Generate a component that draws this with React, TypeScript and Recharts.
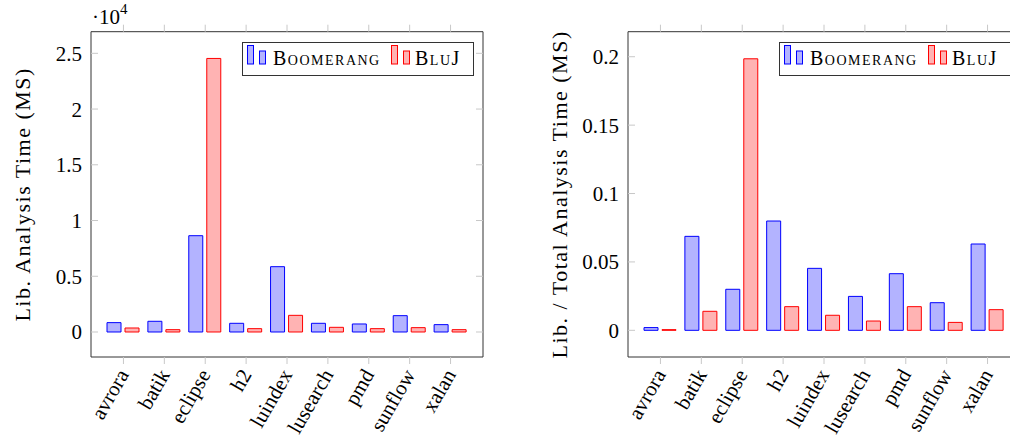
import { BarChart, Bar, XAxis, YAxis, Legend, Label } from 'recharts';

// benchmarks and measured values
const benchmarks = ['avrora', 'batik', 'eclipse', 'h2', 'luindex', 'lusearch', 'pmd', 'sunflow', 'xalan'];
const boomerangLibTime = [840, 960, 8640, 780, 5860, 780, 720, 1465, 660];
const blujLibTime = [360, 210, 24540, 300, 1495, 420, 300, 390, 210];
const boomerangLibRatio = [0.002, 0.0687, 0.03, 0.0799, 0.0453, 0.0248, 0.0414, 0.0202, 0.0631];
const blujLibRatio = [0.0005, 0.0139, 0.1985, 0.0173, 0.011, 0.0068, 0.0173, 0.0058, 0.0151];
const timeTicks = [0, 5000, 10000, 15000, 20000, 25000];
const ratioTicks = [0, 0.05, 0.1, 0.15, 0.2];

const FONT = "'Liberation Serif', 'Times New Roman', serif";
const BLUE = '#0000ff';
const BLUE_FILL = '#b3b3ff';
const RED = '#ff0000';
const RED_FILL = '#ffb3b3';
const FRAME = '#333';
const TICK = '#c8c8c8';

const SlantTick = ({ x, y, payload }: any) => (
  <text
    x={x}
    y={y}
    transform={`rotate(-60, ${x}, ${y})`}
    textAnchor="end"
    dominantBaseline="central"
    fontFamily={FONT}
    fontSize={21}
    fill="#000"
  >
    {payload.value}
  </text>
);

const NoTick = () => <g />;

const LegendBox = () => (
  <svg width={232} height={34} style={{ display: 'block' }}>
    <rect x={0.5} y={0.5} width={231} height={33} fill="#fff" stroke={FRAME} />
    <rect x={5.5} y={3.5} width={6} height={18.5} fill={BLUE_FILL} stroke={BLUE} />
    <rect x={17.5} y={9} width={6} height={13} fill={BLUE_FILL} stroke={BLUE} />
    <text x={31} y={22.5} fontFamily={FONT} fontSize={20} letterSpacing={1.5} style={{ fontVariant: 'small-caps' }}>
      Boomerang
    </text>
    <rect x={149.5} y={3.5} width={6} height={18.5} fill={RED_FILL} stroke={RED} />
    <rect x={161.5} y={9} width={6} height={13} fill={RED_FILL} stroke={RED} />
    <text x={173} y={22.5} fontFamily={FONT} fontSize={20} letterSpacing={1.5} style={{ fontVariant: 'small-caps' }}>
      BluJ
    </text>
  </svg>
);

const AxisTitle = ({ viewBox, text }: any) => {
  const cx = viewBox.x - 8;
  const cy = viewBox.y + viewBox.height / 2;
  return (
    <text
      x={cx}
      y={cy}
      transform={`rotate(-90, ${cx}, ${cy})`}
      textAnchor="middle"
      dominantBaseline="central"
      fontFamily={FONT}
      fontSize={22}
      letterSpacing={1.5}
      fill="#000"
    >
      {text}
    </text>
  );
};

interface PanelProps {
  blue: number[];
  red: number[];
  domain: [number, number];
  ticks: number[];
  fmt: (v: number) => string;
  title: string;
  width: number;
  marginLeft: number;
  marginRight: number;
  legendLeft: number;
}

function Panel({ blue, red, domain, ticks, fmt, title, width, marginLeft, marginRight, legendLeft }: PanelProps) {
  const data = benchmarks.map((name, i) => ({ name, boomerang: blue[i], bluj: red[i] }));
  return (
    <BarChart
      width={width}
      height={438}
      data={data}
      margin={{ top: 30.7, right: marginRight, bottom: 21, left: marginLeft }}
      barSize={14}
      barGap={4}
    >
      <XAxis
        xAxisId="bottom"
        dataKey="name"
        orientation="bottom"
        height={60}
        padding={{ left: 12, right: 12 }}
        axisLine={{ stroke: FRAME }}
        tickLine={{ stroke: TICK }}
        tickSize={7}
        tickMargin={7}
        interval={0}
        tick={<SlantTick />}
      />
      <XAxis
        xAxisId="top"
        dataKey="name"
        orientation="top"
        height={1}
        padding={{ left: 12, right: 12 }}
        axisLine={{ stroke: FRAME }}
        tickLine={{ stroke: TICK }}
        tickSize={7}
        interval={0}
        tick={<NoTick />}
      />
      <YAxis
        yAxisId="left"
        type="number"
        domain={domain}
        ticks={ticks}
        allowDataOverflow
        width={60}
        axisLine={{ stroke: FRAME }}
        tickLine={{ stroke: TICK }}
        tickSize={-7}
        tickMargin={16}
        tickFormatter={fmt}
        tick={{ fontFamily: FONT, fontSize: 21, fill: '#000' }}
      >
        <Label content={(p: any) => <AxisTitle {...p} text={title} />} />
      </YAxis>
      <YAxis
        yAxisId="right"
        orientation="right"
        type="number"
        domain={domain}
        ticks={ticks}
        allowDataOverflow
        width={1}
        axisLine={{ stroke: FRAME }}
        tickLine={{ stroke: TICK }}
        tickSize={-7}
        tick={<NoTick />}
      />
      <Legend
        content={<LegendBox />}
        layout="vertical"
        align="center"
        verticalAlign="middle"
        wrapperStyle={{ left: legendLeft, top: 42, width: 232, height: 34 }}
      />
      <Bar
        xAxisId="bottom"
        yAxisId="left"
        dataKey="boomerang"
        name="Boomerang"
        fill={BLUE_FILL}
        stroke={BLUE}
        strokeWidth={1}
        isAnimationActive={false}
      />
      <Bar
        xAxisId="bottom"
        yAxisId="left"
        dataKey="bluj"
        name="BluJ"
        fill={RED_FILL}
        stroke={RED}
        strokeWidth={1}
        isAnimationActive={false}
      />
    </BarChart>
  );
}

export default function App() {
  return (
    <div
      style={{
        position: 'absolute',
        left: 0,
        top: 0,
        width: 1010,
        height: 438,
        overflow: 'hidden',
        background: '#fff',
      }}
    >
      <div style={{ position: 'absolute', left: 0, top: 0 }}>
        <Panel
          blue={boomerangLibTime}
          red={blujLibTime}
          domain={[-2243, 26940]}
          ticks={timeTicks}
          fmt={(v) => String(v / 10000)}
          title="Lib. Analysis Time (MS)"
          width={500}
          marginLeft={31}
          marginRight={16}
          legendLeft={242}
        />
      </div>
      <svg width={180} height={32} style={{ position: 'absolute', left: 0, top: 0 }}>
        <text x={92} y={24} fontFamily={FONT} fontSize={21} fill="#000">
          ·10
          <tspan dy={-10} fontSize={15}>4</tspan>
        </text>
      </svg>
      <div style={{ position: 'absolute', left: 505, top: 0 }}>
        <Panel
          blue={boomerangLibRatio}
          red={blujLibRatio}
          domain={[-0.0195, 0.2183]}
          ticks={ratioTicks}
          fmt={(v) => String(v)}
          title="Lib. / Total Analysis Time (MS)"
          width={530}
          marginLeft={63}
          marginRight={14}
          legendLeft={274}
        />
      </div>
    </div>
  );
}
